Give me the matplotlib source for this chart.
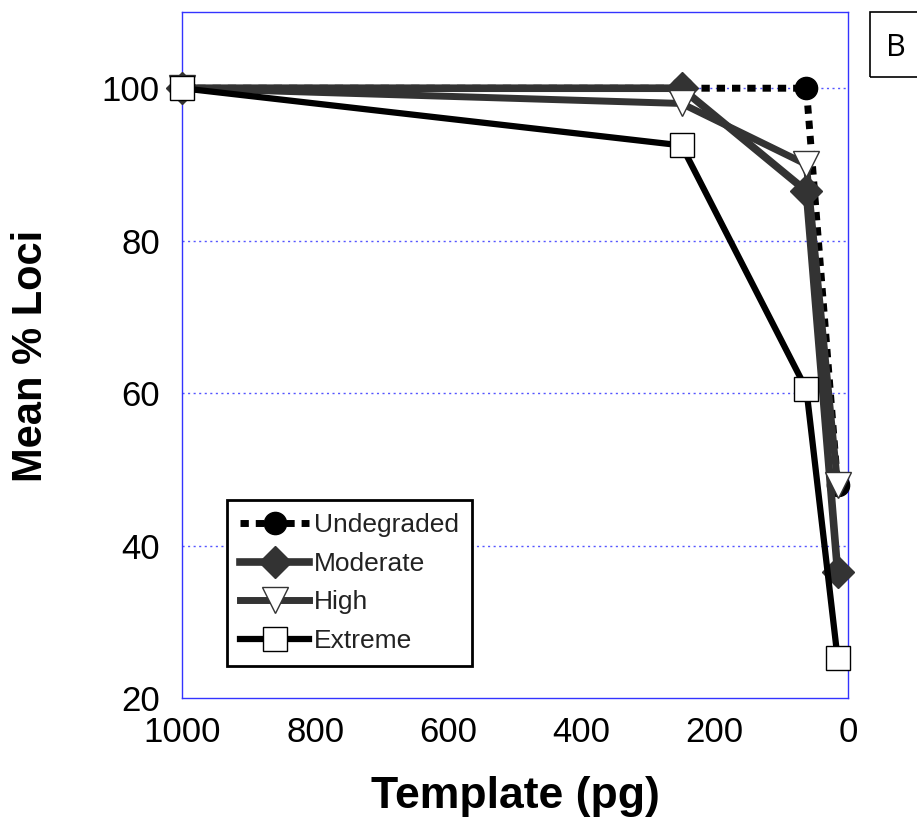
import matplotlib
matplotlib.use("Agg")
import matplotlib.pyplot as plt
from matplotlib.patches import Rectangle

plt.rcParams['font.family'] = ['Liberation Sans', 'DejaVu Sans']

template_pg = [1000, 250, 62.5, 15.6]
undegraded = [100, 100, 100, 48]
moderate = [100, 100, 86.5, 36.5]
high = [100, 98, 90, 48]
extreme = [100, 92.5, 60.5, 25.2]

x_ticks = [1000, 800, 600, 400, 200, 0]
y_ticks = [20, 40, 60, 80, 100]

fig = plt.figure(figsize=(9.17, 8.25), dpi=100)
ax = fig.add_axes([182/917, 1-698/825, 666/917, 686/825])

dark = '#333333'
ax.plot(template_pg, undegraded, color='black', lw=5, dashes=(1.2, 1.0),
        dash_capstyle='butt', marker='o', ms=16, mfc='black', mec='black',
        label='Undegraded', zorder=3, clip_on=False)
ax.plot(template_pg, moderate, color=dark, lw=5.5, marker='D', ms=16,
        mfc=dark, mec=dark, label='Moderate', zorder=4, clip_on=False)
ax.plot(template_pg, high, color=dark, lw=5, marker='v', ms=19,
        mfc='white', mec=dark, mew=1, label='High', zorder=5, clip_on=False)
ax.plot(template_pg, extreme, color='black', lw=4.5, marker='s', ms=17,
        mfc='white', mec='black', mew=1, label='Extreme', zorder=6,
        clip_on=False)

ax.set_xlim(1000, 0)
ax.set_ylim(20, 110)
ax.set_xticks(x_ticks)
ax.set_yticks(y_ticks)
ax.tick_params(axis='both', length=0, labelsize=25)
ax.tick_params(axis='y', pad=16)
ax.tick_params(axis='x', pad=13)

for y in [40, 60, 80, 100]:
    ax.axhline(y, color='#5555ff', lw=1, ls=(0, (1.5, 2.5)), zorder=1)
for s in ax.spines.values():
    s.set_color('#3333ff')
    s.set_linewidth(1)

leg = ax.legend(loc='lower left', bbox_to_anchor=(0.0676, 0.0466),
                borderaxespad=0, fontsize=19, handlelength=2.6,
                handletextpad=0.2, labelspacing=0.55, fancybox=False,
                edgecolor='black', framealpha=1, borderpad=0.5)
leg.get_frame().set_linewidth(2)
leg.set_zorder(10)
for t in leg.get_texts():
    t.set_color('#222222')

fig.text(31/917, 1-356/825, 'Mean % Loci', rotation=90, ha='center',
         va='center', fontsize=30, fontweight='bold')
fig.text(515/917, 1-808/825, 'Template (pg)', ha='center', va='baseline',
         fontsize=32, fontweight='bold')

fig.patches.append(Rectangle((870/917, 1-77/825), 0.1, 65/825,
                             transform=fig.transFigure, fill=False,
                             edgecolor='black', lw=1.2))
fig.text(896/917, 1-48/825, 'B', ha='center', va='center', fontsize=22,
         family=['Open Sans', 'DejaVu Sans'])

fig.savefig('out.png', dpi=100)
